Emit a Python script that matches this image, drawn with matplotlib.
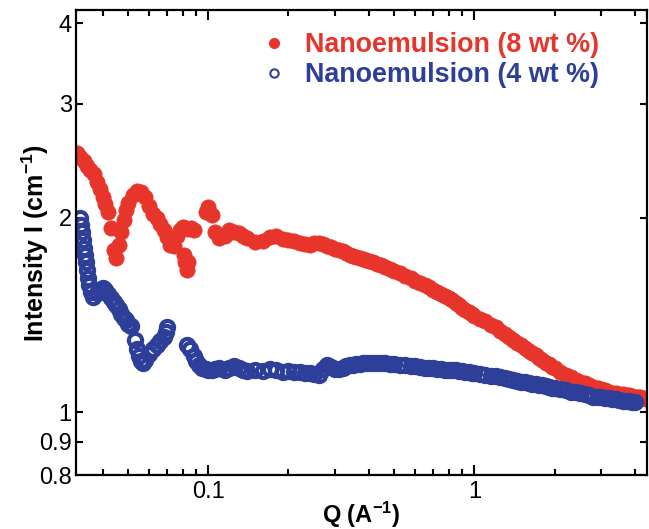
import matplotlib
matplotlib.use("Agg")
import matplotlib.pyplot as plt
from matplotlib.lines import Line2D
from matplotlib.ticker import FixedLocator, FixedFormatter, LogLocator, NullFormatter, NullLocator

plt.rcParams['font.family'] = ['Liberation Sans', 'DejaVu Sans']
plt.rcParams['mathtext.fontset'] = 'custom'
plt.rcParams['mathtext.rm'] = 'Liberation Sans:bold'
plt.rcParams['mathtext.bf'] = 'Liberation Sans:bold'
plt.rcParams['mathtext.it'] = 'Liberation Sans:bold'

# --- data ---
q_8wt = [0.032, 0.033, 0.034, 0.035, 0.036, 0.037, 0.038, 0.039, 0.040, 0.041,
         0.042, 0.043, 0.044, 0.045, 0.046, 0.047, 0.048, 0.049, 0.050, 0.052,
         0.054, 0.056, 0.058, 0.060, 0.062, 0.064, 0.066, 0.068, 0.070, 0.072,
         0.074, 0.076, 0.078, 0.080, 0.082, 0.084, 0.086, 0.088,
         0.081, 0.082, 0.083, 0.084,
         0.098, 0.100, 0.103, 0.106, 0.110, 0.115, 0.120, 0.125, 0.130, 0.135,
         0.14, 0.15, 0.16, 0.17, 0.18, 0.19, 0.20, 0.22, 0.24, 0.26, 0.28, 0.30,
         0.32, 0.34, 0.36, 0.38, 0.40, 0.43, 0.46, 0.50, 0.55, 0.60, 0.65, 0.70,
         0.75, 0.80, 0.85, 0.90, 0.95, 1.0, 1.1, 1.2, 1.3, 1.4, 1.5, 1.6, 1.7,
         1.8, 1.9, 2.0, 2.2, 2.4, 2.6, 2.8, 3.0, 3.2, 3.4, 3.6, 3.8, 4.0, 4.2, 4.4,
         0.21, 0.23, 0.25, 0.27, 0.29, 0.31, 0.33, 0.35, 0.37, 0.39, 0.415, 0.445,
         0.48, 0.525, 0.575, 0.625, 0.675, 0.725, 0.775, 0.825, 0.875, 0.925, 0.975,
         1.05, 1.15, 1.25, 1.35, 1.45, 1.55, 1.65, 1.75, 1.85, 1.95, 2.1, 2.3, 2.5,
         2.7, 2.9, 3.1, 3.3, 3.5, 3.7, 3.9, 4.1, 4.3]
i_8wt = [2.519, 2.484, 2.448, 2.405, 2.371, 2.338, 2.273, 2.217, 2.154, 2.101,
         2.043, 1.930, 1.784, 1.735, 1.817, 1.902, 1.986, 2.057, 2.109, 2.170,
         2.201, 2.193, 2.154, 2.086, 2.028, 2.000, 1.957, 1.916, 1.869, 1.817,
         1.810, 1.876, 1.916, 1.936, 1.930, 1.923, 1.930, 1.916,
         1.753, 1.710, 1.663, 1.710,
         2.043, 2.079, 2.021, 1.902, 1.862, 1.876, 1.916, 1.902, 1.895, 1.876,
         1.862, 1.836, 1.842, 1.869, 1.876, 1.855, 1.849, 1.829, 1.817, 1.829, 1.810, 1.791,
         1.778, 1.753, 1.741, 1.729, 1.717, 1.698, 1.680, 1.656, 1.627, 1.599, 1.576, 1.548,
         1.526, 1.505, 1.478, 1.452, 1.432, 1.411, 1.382, 1.353, 1.324, 1.296, 1.269, 1.246, 1.225,
         1.203, 1.186, 1.169, 1.144, 1.124, 1.109, 1.093, 1.085, 1.077, 1.070, 1.066, 1.062, 1.058, 1.055, 1.047,
         1.838, 1.823, 1.825, 1.818, 1.800, 1.785, 1.765, 1.747, 1.735, 1.723, 1.708, 1.689,
         1.668, 1.641, 1.613, 1.587, 1.562, 1.537, 1.515, 1.491, 1.465, 1.442, 1.421,
         1.396, 1.367, 1.338, 1.310, 1.282, 1.257, 1.235, 1.214, 1.194, 1.177, 1.156, 1.134, 1.116,
         1.101, 1.089, 1.081, 1.073, 1.068, 1.064, 1.060, 1.056, 1.051]

q_4wt = [0.0329, 0.0332, 0.0334, 0.0337, 0.0340, 0.0343, 0.0346, 0.0349, 0.0352, 0.0355,
         0.0361, 0.0368,
         0.038, 0.039, 0.040, 0.041, 0.042, 0.043, 0.044, 0.045, 0.046, 0.047, 0.048,
         0.049, 0.050, 0.051,
         0.053, 0.054, 0.055, 0.056, 0.057, 0.058, 0.060, 0.062, 0.064, 0.066, 0.068,
         0.069, 0.070,
         0.083, 0.085, 0.088, 0.090, 0.092, 0.095, 0.098, 0.100, 0.103, 0.106, 0.110,
         0.115, 0.120, 0.125, 0.130, 0.135, 0.14, 0.15, 0.16, 0.17, 0.18, 0.19, 0.20,
         0.22, 0.24, 0.26, 0.28, 0.30, 0.32, 0.34, 0.36, 0.38, 0.40, 0.43, 0.46, 0.50,
         0.55, 0.60, 0.65, 0.70, 0.75, 0.80, 0.85, 0.90, 0.95, 1.0, 1.1, 1.2, 1.3, 1.4,
         1.5, 1.6, 1.7, 1.8, 1.9, 2.0, 2.2, 2.4, 2.6, 2.8, 3.0, 3.2, 3.4, 3.6, 3.8, 4.0,
         0.21, 0.23, 0.25, 0.27, 0.29, 0.31, 0.33, 0.35, 0.37, 0.39, 0.415, 0.445,
         0.48, 0.525, 0.575, 0.625, 0.675, 0.725, 0.775, 0.825, 0.875, 0.925, 0.975,
         1.05, 1.15, 1.25, 1.35, 1.45, 1.55, 1.65, 1.75, 1.85, 1.95, 2.1, 2.3, 2.5,
         2.7, 2.9, 3.1, 3.3, 3.5, 3.7, 3.9]
i_4wt = [2.000, 1.951, 1.902, 1.849, 1.797, 1.753, 1.710, 1.663, 1.616, 1.576,
         1.537, 1.510,
         1.532, 1.548, 1.559, 1.548, 1.526, 1.505, 1.483, 1.468, 1.447, 1.421, 1.401,
         1.391, 1.372, 1.358,
         1.296, 1.251, 1.220, 1.199, 1.190, 1.203, 1.229, 1.251, 1.269, 1.287, 1.310,
         1.329, 1.353,
         1.273, 1.251, 1.220, 1.199, 1.182, 1.173, 1.165, 1.161, 1.161, 1.165, 1.169,
         1.161, 1.173, 1.178, 1.169, 1.161, 1.157, 1.161, 1.157, 1.165, 1.161, 1.153, 1.157,
         1.153, 1.149, 1.141, 1.182, 1.165, 1.173, 1.182, 1.186, 1.190, 1.190, 1.194, 1.190, 1.186,
         1.182, 1.178, 1.173, 1.169, 1.165, 1.161, 1.161, 1.157, 1.153, 1.149, 1.144, 1.137, 1.132, 1.124,
         1.116, 1.112, 1.105, 1.101, 1.093, 1.089, 1.081, 1.074, 1.066, 1.058, 1.055, 1.051, 1.047, 1.043, 1.040, 1.036,
         1.155, 1.150, 1.145, 1.165, 1.175, 1.168, 1.178, 1.184, 1.188, 1.190, 1.192, 1.192,
         1.188, 1.184, 1.180, 1.175, 1.171, 1.167, 1.163, 1.161, 1.159, 1.155, 1.151,
         1.146, 1.140, 1.134, 1.128, 1.120, 1.114, 1.108, 1.103, 1.097, 1.091, 1.085, 1.077, 1.070,
         1.062, 1.056, 1.053, 1.049, 1.045, 1.041, 1.038]

label_8wt = "Nanoemulsion (8 wt %)"
label_4wt = "Nanoemulsion (4 wt %)"
y_ticks = [0.8, 0.9, 1, 2, 3, 4]
y_tick_labels = ["0.8", "0.9", "1", "2", "3", "4"]
x_ticks = [0.1, 1]
x_tick_labels = ["0.1", "1"]

red = "#E8352B"
blue = "#2E3F99"

fig = plt.figure(figsize=(6.49, 5.29), dpi=100)
ax = fig.add_axes([76/649, 54/529, 571/649, 465/529])

ax.plot(q_8wt, i_8wt, linestyle='none', marker='o', markersize=11,
        markerfacecolor=red, markeredgecolor=red, markeredgewidth=0.5)
ax.plot(q_4wt, i_4wt, linestyle='none', marker='o', markersize=9.5,
        markerfacecolor='none', markeredgecolor=blue, markeredgewidth=3.0)

ax.set_xscale('log')
ax.set_yscale('log')
ax.set_xlim(0.0318, 4.45)
ax.set_ylim(0.8, 4.19)

ax.xaxis.set_major_locator(FixedLocator(x_ticks))
ax.xaxis.set_major_formatter(FixedFormatter(x_tick_labels))
ax.xaxis.set_minor_locator(LogLocator(base=10, subs=(2, 3, 4, 5, 6, 7, 8, 9)))
ax.xaxis.set_minor_formatter(NullFormatter())
ax.yaxis.set_major_locator(FixedLocator(y_ticks))
ax.yaxis.set_major_formatter(FixedFormatter(y_tick_labels))
ax.yaxis.set_minor_locator(NullLocator())

ax.tick_params(axis='both', which='both', direction='in', top=True, right=True,
               labelsize=17, width=1.5, colors='black')
ax.tick_params(axis='x', which='major', length=7, pad=4)
ax.tick_params(axis='x', which='minor', length=4)
ax.tick_params(axis='y', which='major', length=5, pad=3)
for s in ax.spines.values():
    s.set_linewidth(1.6)

ax.set_xlabel(r"Q (A$^{-1}$)", fontsize=17, fontweight='bold', labelpad=-2)
ax.set_ylabel(r"Intensity I (cm$^{-1}$)", fontsize=18, fontweight='bold')
ax.yaxis.set_label_coords(-0.044, 0.5)

handles = [Line2D([], [], linestyle='none', marker='o', markersize=7,
                  markerfacecolor=red, markeredgecolor=red),
           Line2D([], [], linestyle='none', marker='o', markersize=6,
                  markerfacecolor='none', markeredgecolor=blue, markeredgewidth=1.5)]
leg = ax.legend(handles, [label_8wt, label_4wt], loc='upper right',
                bbox_to_anchor=(0.935, 0.975), frameon=False,
                prop={'size': 19.4, 'weight': 'bold'}, handletextpad=0.55,
                labelspacing=0.15, handlelength=1.2, borderaxespad=0)
for t, c in zip(leg.get_texts(), [red, blue]):
    t.set_color(c)

fig.savefig("out.png", dpi=100)
